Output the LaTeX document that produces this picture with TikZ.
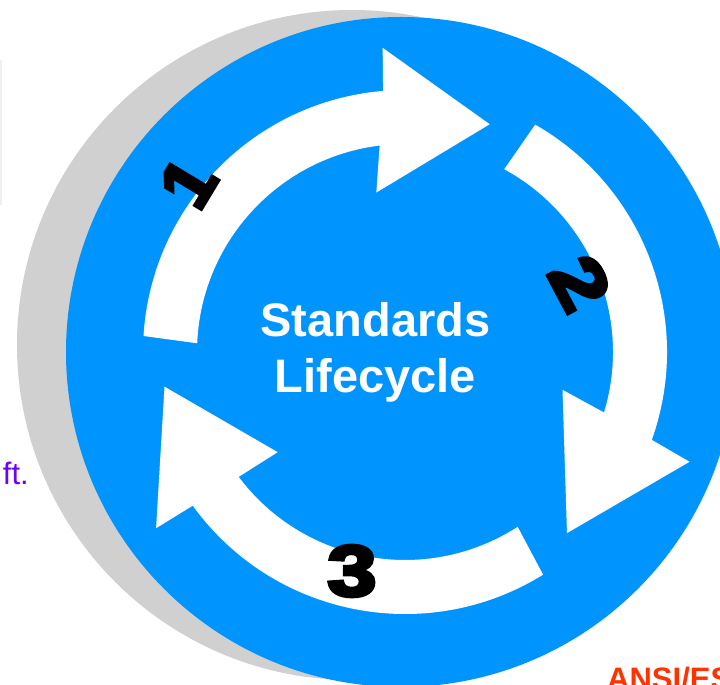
\documentclass[tikz,border=0pt]{standalone}
\usepackage{fontspec}
\setmainfont{Liberation Sans}
\newfontfamily\numfont{Liberation Sans}[FakeBold=5]
\definecolor{lifeblue}{RGB}{0,148,255}
\definecolor{shadegray}{RGB}{208,208,208}
\definecolor{notepurple}{RGB}{106,0,255}
\definecolor{ansired}{RGB}{255,51,0}
\newcommand{\wide}[1]{\scalebox{1.22}[1]{#1}}

\begin{document}
\begin{tikzpicture}[
    x=1pt, y=1pt,
    % Define the styles for the discs and labels
    backdisc/.style={fill=shadegray},
    disc/.style={fill=lifeblue},
    band/.style={fill=white},
    title/.style={font=\fontsize{47}{56}\selectfont\bfseries, text=white, align=center, inner sep=0pt},
    num/.style={font=\numfont\fontsize{72}{72}\selectfont\bfseries, text=black, inner sep=0pt},
    note/.style={font=\fontsize{31}{34}\selectfont, text=notepurple, inner sep=0pt},
    tag/.style={font=\fontsize{31}{36}\selectfont\bfseries, text=ansired, inner sep=0pt}
]
    \useasboundingbox (0,0) rectangle (720,685);

    % rule at the left edge
    \fill[black!6] (0,480) rectangle (1.5,625);

    % discs
    \fill[backdisc] (352,340) circle[radius=335];
    \fill[disc] (401,333) circle[radius=335];

    % arrows round the ring
    \begin{scope}[shift={(405,333)}]
        \foreach \ao/\ai/\bo/\bi/\ho/\hi/\tp in {176.5/177.6/94.8/97.0/94.2/100.2/69.6,
                60.2/61.5/-19.6/-16.9/-21.1/-13.5/-48.2,
                -58.2/-57.2/-144.1/-143.1/-144.7/-141.8/-171.8} {
            \fill[band] (\ao:262) arc[start angle=\ao, end angle=\bo, radius=262]
                -- (\ho:305) -- (\tp:243) -- (\hi:162)
                -- (\bi:208) arc[start angle=\bi, end angle=\ai, radius=208] -- cycle;
        }
    \end{scope}

    % labels
    \node[title] (life) at (375.5,332.5) {Standards\\Lifecycle};
    \node[num, rotate=59] (one) at (188,502) {1};
    \node[num, rotate=-62] (two) at (580,402) {\wide{2}};
    \node[num] (three) at (352,114) {\wide{3}};

    % cut-off texts at the edges
    \node[note, anchor=base east] (draft) at (29,200) {ft.};
    \node[tag, anchor=base west] (ansi) at (607,-5) {ANSI/ES};

\end{tikzpicture}
\end{document}
